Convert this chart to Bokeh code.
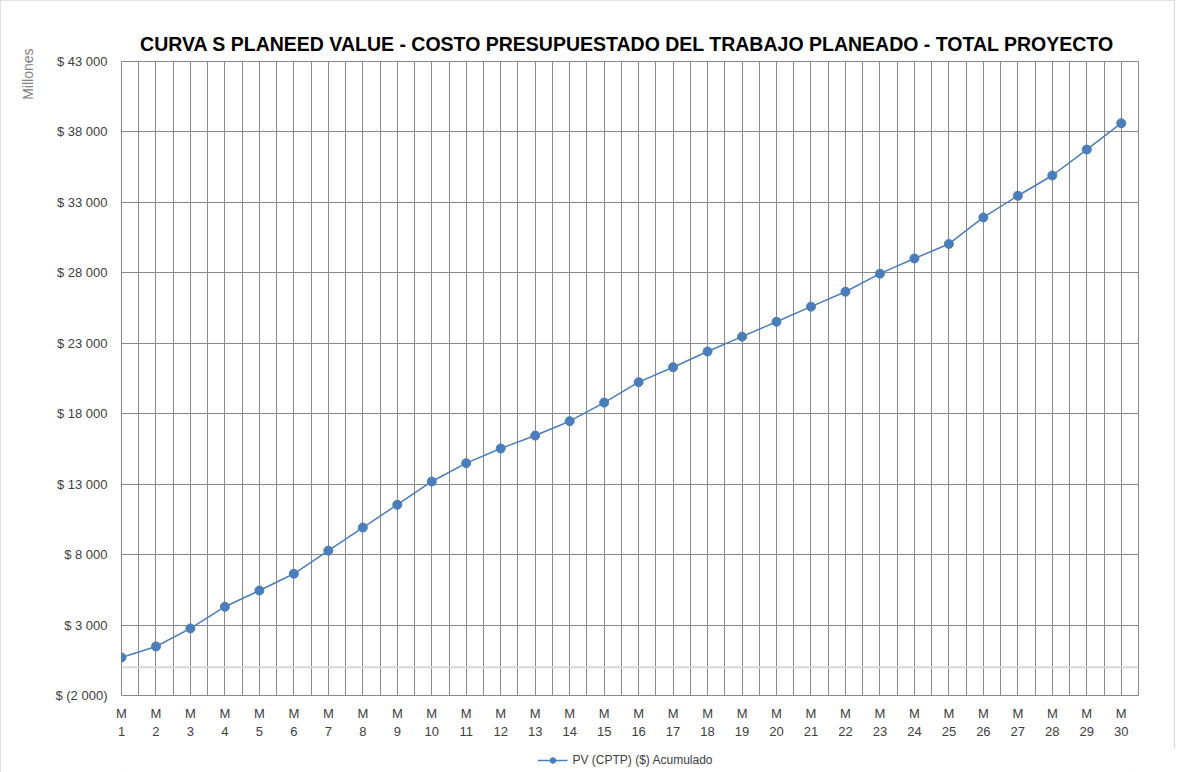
import numpy as np
from bokeh.plotting import figure
from bokeh.layouts import column
from bokeh.models import FixedTicker, Span, Legend, LegendItem, Title, Range1d
from bokeh.embed import file_html
from bokeh.resources import INLINE

# ---- data ----
months = list(range(1, 31))
month_labels = [f"M\n{m}" for m in months]
pv_acum = [700, 1480, 2760, 4300, 5450, 6640, 8280, 9920, 11540, 13190,
           14490, 15530, 16450, 17470, 18790, 20240, 21300, 22420, 23470, 24530,
           25600, 26660, 27940, 29020, 30050, 31930, 33470, 34910, 36750, 38620]
y_ticks = [-2000, 3000, 8000, 13000, 18000, 23000, 28000, 33000, 38000, 43000]
y_tick_labels = ["$ (2 000)", "$ 3 000", "$ 8 000", "$ 13 000", "$ 18 000",
                 "$ 23 000", "$ 28 000", "$ 33 000", "$ 38 000", "$ 43 000"]
title_text = "CURVA S PLANEED VALUE - COSTO PRESUPUESTADO DEL TRABAJO PLANEADO  - TOTAL PROYECTO"
series_name = "PV (CPTP) ($) Acumulado"
units_label = "Millones"
zero_line = 0

# ---- style ----
GRID = "#898989"
BLUE = "#4a7ebb"
TXT = "#404040"
FONT = "Liberation Sans"
X0, X1 = 1, 30.5
Y0, Y1 = -2000, 43000
TOTAL_W = 1175

p = figure(frame_width=1017, frame_height=634, output_backend="svg",
           toolbar_location=None,
           x_range=Range1d(X0, X1), y_range=Range1d(Y0, Y1),
           min_border_left=121, min_border_right=36, min_border_top=61,
           min_border_bottom=53)

p.title.text = title_text
p.title.align = "center"
p.title.text_font = FONT
p.title.text_font_style = "bold"
p.title.text_font_size = "19.5px"
p.title.text_color = "#000000"
p.title.standoff = 14

p.outline_line_color = GRID
p.outline_line_width = 1

p.xgrid.ticker = FixedTicker(ticks=list(np.arange(X0, X1 + 0.01, 0.5)))
p.xgrid.grid_line_color = GRID
p.ygrid.ticker = FixedTicker(ticks=y_ticks)
p.ygrid.grid_line_color = GRID

p.add_layout(Span(location=zero_line, dimension="width", line_color="#d9d9d9",
                  line_width=2))

xa = p.xaxis[0]
xa.ticker = FixedTicker(ticks=months)
xa.major_label_overrides = dict(zip(months, month_labels))
xa.axis_line_color = None
xa.major_tick_line_color = None
xa.minor_tick_line_color = None
xa.major_tick_out = 0
xa.minor_tick_out = 0
xa.major_label_standoff = 10
xa.major_label_text_font = FONT
xa.major_label_text_font_size = "13px"
xa.major_label_text_color = TXT

ya = p.yaxis[0]
ya.ticker = FixedTicker(ticks=y_ticks)
ya.major_label_overrides = dict(zip(y_ticks, y_tick_labels))
ya.axis_line_color = None
ya.major_tick_line_color = None
ya.minor_tick_line_color = None
ya.major_tick_out = 0
ya.minor_tick_out = 0
ya.major_label_standoff = 14
ya.major_label_text_font = FONT
ya.major_label_text_font_size = "13px"
ya.major_label_text_color = TXT

p.line(months, pv_acum, line_color=BLUE, line_width=1.5)
p.scatter(months, pv_acum, size=9, fill_color=BLUE, line_color=BLUE)

# "Millones" display-units label in the left margin, near the top
p.add_layout(Title(text=units_label, align="right", offset=-13, standoff=34,
                   text_font=FONT, text_font_size="14px",
                   text_font_style="normal", text_color="#7f7f7f"), "left")

# ---- legend strip below the chart ----
# proxy renderers (same style as the series) whose single point lies outside
# this strip's ranges, so only their legend swatch is shown
pl = figure(width=TOTAL_W, height=24, output_backend="svg", toolbar_location=None,
            min_border_left=0, min_border_right=46, min_border_top=0,
            min_border_bottom=0, x_axis_location=None, y_axis_location=None,
            x_range=Range1d(-1, 0), y_range=Range1d(-1, 0))
pl.outline_line_color = None
pl.grid.visible = False
lr = pl.line(months[:2], pv_acum[:2], line_color=BLUE, line_width=1.5)
sr = pl.scatter(months[:1], pv_acum[:1], size=9, fill_color=BLUE, line_color=BLUE)
legend = Legend(items=[LegendItem(label=series_name, renderers=[lr, sr])],
                location="center", orientation="horizontal",
                border_line_color=None, background_fill_alpha=0,
                label_text_font=FONT, label_text_font_size="12px",
                label_text_color=TXT, glyph_width=30, glyph_height=14,
                label_height=14, label_standoff=5, margin=0, padding=0)
pl.add_layout(legend, "center")

layout = column(p, pl, spacing=0)
layout.styles = {"outline": "1px solid #d9d9d9", "outline-offset": "-1px"}

open("out.html", "w").write(file_html(layout, INLINE))
